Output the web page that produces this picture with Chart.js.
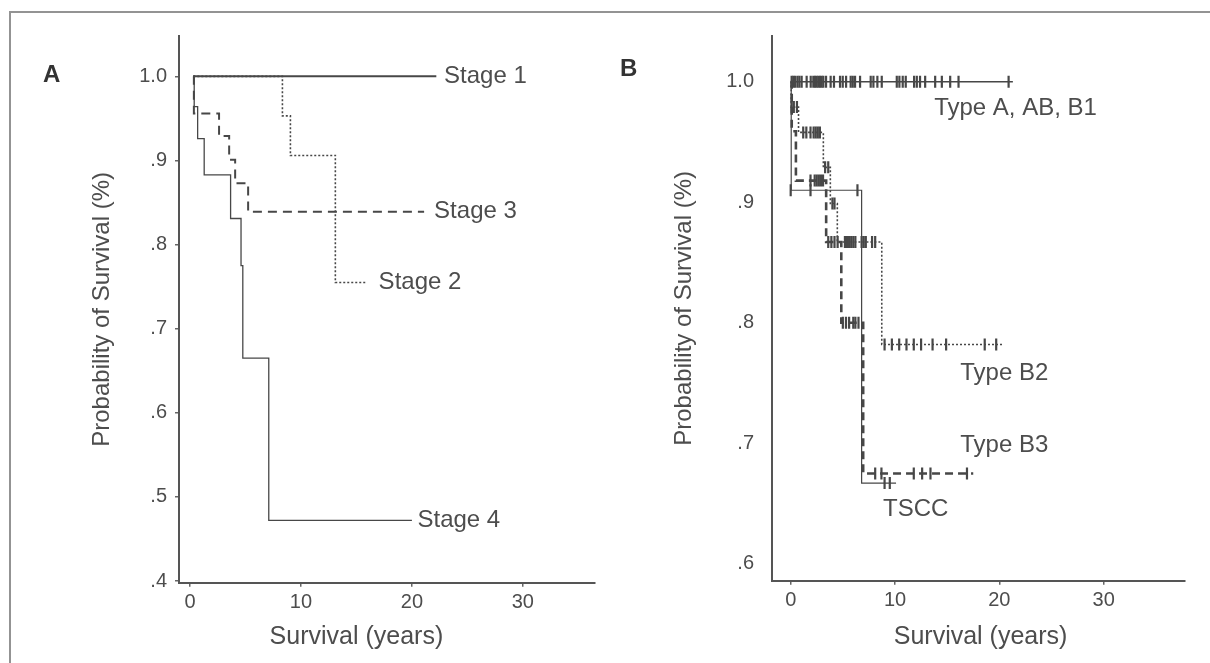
<!DOCTYPE html>
<html>
<head>
<meta charset="utf-8">
<script src="https://cdn.jsdelivr.net/npm/chart.js@4.4.1/dist/chart.umd.min.js"></script>
<style>
  body { margin: 0; background: #fff; width: 1210px; height: 663px; overflow: hidden; position: relative; font-family: "Liberation Sans", Arial, sans-serif; }
  .frame { position: absolute; left: 9px; top: 11px; width: 1220px; height: 700px; border-top: 2px solid #939393; border-left: 2px solid #939393; }
  .panel { position: absolute; top: 0; }
  .tag { position: absolute; font-weight: bold; font-size: 24px; color: #333; line-height: 24px; }
</style>
</head>
<body>
<div class="frame"></div>
<canvas id="chartA" class="panel" width="605" height="663" style="left:0"></canvas>
<canvas id="chartB" class="panel" width="605" height="663" style="left:605px"></canvas>
<div class="tag" style="left:43px;top:62px">A</div>
<div class="tag" style="left:620px;top:56px">B</div>
<script>
// x axis ticks shared by both panels
const xTickValues = [0, 10, 20, 30];

// panel A, survival by stage (years when each step starts, survival after it)
const stage1Years = [0.3, 22.2];
const stage1Surv = [1.0, 1.0];
const stage2Years = [0.3, 8.33, 9.05, 13.1, 15.9];
const stage2Surv = [1.0, 0.953, 0.906, 0.755, 0.755];
const stage3Years = [0.3, 0.35, 2.62, 3.53, 4.07, 5.24, 21.1];
const stage3Surv = [1.0, 0.956, 0.929, 0.901, 0.873, 0.839, 0.839];
const stage4Years = [0.3, 0.38, 0.69, 1.28, 3.66, 4.6, 4.76, 7.1, 20.0];
const stage4Surv = [1.0, 0.964, 0.926, 0.883, 0.831, 0.775, 0.665, 0.472, 0.472];
const yTicksA = [1.0, 0.9, 0.8, 0.7, 0.6, 0.5, 0.4];
const yLabelsA = ["1.0", ".9", ".8", ".7", ".6", ".5", ".4"];

// panel B, survival by histologic type
const typeAYears = [0, 21.3];
const typeASurv = [1.0, 1.0];
const typeB2Years = [0, 0.05, 0.75, 3.13, 3.8, 4.47, 8.73, 20.3];
const typeB2Surv = [1.0, 0.979, 0.958, 0.929, 0.899, 0.867, 0.782, 0.782];
const typeB3Years = [0, 0.1, 0.5, 3.4, 4.85, 6.95, 17.5];
const typeB3Surv = [1.0, 0.959, 0.918, 0.867, 0.8, 0.675, 0.675];
const tsccYears = [0, 0.05, 6.8, 10.1];
const tsccSurv = [1.0, 0.91, 0.667, 0.667];

// censored cases (+ marks), grouped by the level they sit on
const typeACensorLevels = [1.0];
const typeACensorYears = [[0.09, 0.25, 0.41, 0.64, 0.83, 1.05, 1.53, 1.92, 2.17, 2.33, 2.49, 2.65, 2.81, 2.97, 3.13, 3.39, 3.83, 4.15, 4.73, 4.99, 5.31, 5.75, 5.95, 6.17, 6.65, 7.67, 7.93, 8.31, 8.73, 10.17, 10.42, 10.74, 11.03, 11.83, 12.09, 12.4, 12.89, 13.85, 14.49, 15.29, 16.09, 20.89]];
const typeB2CensorLevels = [0.979, 0.958, 0.929, 0.899, 0.867, 0.782];
const typeB2CensorYears = [
  [0.1, 0.3, 0.6],
  [1.2, 1.5, 1.9, 2.2, 2.4, 2.6, 2.8],
  [3.3, 3.6],
  [4.0, 4.2],
  [5.2, 5.4, 5.6, 5.8, 6.0, 6.2, 6.8, 7.0, 7.2, 7.8, 8.1],
  [9.0, 9.7, 10.4, 11.1, 11.8, 12.5, 13.6, 14.9, 18.6, 19.7],
];
const typeB3CensorLevels = [0.918, 0.867, 0.8, 0.675];
const typeB3CensorYears = [
  [1.9, 2.3, 2.5, 2.7, 2.9, 3.1],
  [3.6, 3.9, 4.2, 4.5],
  [5.0, 5.3, 5.6, 6.0, 6.2, 6.5],
  [8.1, 8.7, 11.8, 12.6, 13.4, 16.9],
];
const tsccCensorLevels = [0.91, 0.667];
const tsccCensorYears = [[0.0, 1.9, 6.4], [9.0, 9.5]];
const yTicksB = [1.0, 0.9, 0.8, 0.7, 0.6];
const yLabelsB = ["1.0", ".9", ".8", ".7", ".6"];

const ink = "#474747";
const textInk = "#4d4d4d";
const fontFamily = "'Liberation Sans', Arial, sans-serif";

function stepData(years, surv) {
  return years.map((t, i) => ({ x: t, y: surv[i] }));
}

function censorData(levels, years) {
  const out = [];
  levels.forEach((level, i) => {
    years[i].forEach((t) => out.push({ x: t, y: level }));
  });
  return out;
}

function curve(years, surv, width, dash) {
  return {
    data: stepData(years, surv),
    stepped: "before",
    borderColor: ink,
    borderWidth: width,
    borderDash: dash,
    pointRadius: 0,
    fill: false,
  };
}

function censors(levels, years) {
  return {
    data: censorData(levels, years),
    showLine: false,
    pointStyle: "line",
    rotation: 90,
    pointRadius: 6,
    pointBorderColor: ink,
    pointBorderWidth: 2.2,
  };
}

// writes the curve names and the x title in data space
const curveText = {
  id: "curveText",
  afterDatasetsDraw(chart, args, opts) {
    const { ctx } = chart;
    const x = chart.scales.x;
    const y = chart.scales.y;
    ctx.save();
    ctx.fillStyle = textInk;
    ctx.font = "24px " + fontFamily;
    ctx.textBaseline = "middle";
    ctx.textAlign = "left";
    opts.items.forEach((item) => {
      ctx.fillText(item.text, x.getPixelForValue(item.x), y.getPixelForValue(item.y));
    });
    ctx.font = "25px " + fontFamily;
    ctx.textAlign = "center";
    ctx.fillText(opts.xTitle, x.getPixelForValue(opts.xTitleAt), chart.height - 25.5);
    ctx.restore();
  },
};

function makeChart(id, datasets, setup) {
  const tickFont = { family: fontFamily, size: 20 };
  return new Chart(document.getElementById(id), {
    type: "line",
    data: { datasets },
    plugins: [curveText],
    options: {
      responsive: false,
      animation: false,
      devicePixelRatio: 1,
      layout: { autoPadding: false, padding: { left: 0, top: 36, right: setup.padRight, bottom: 0 } },
      plugins: {
        legend: { display: false },
        tooltip: { enabled: false },
        curveText: { items: setup.labels, xTitle: "Survival (years)", xTitleAt: setup.xTitleAt },
      },
      scales: {
        x: {
          type: "linear",
          min: setup.xMin,
          max: setup.xMax,
          afterFit: (s) => { s.height = setup.xAxisHeight; },
          afterBuildTicks: (s) => { s.ticks = xTickValues.map((v) => ({ value: v })); },
          ticks: { color: textInk, font: tickFont, padding: 4, callback: (v) => String(v) },
          grid: { display: true, drawOnChartArea: false, drawTicks: true, tickLength: 4, color: "#666", lineWidth: 1.5 },
          border: { display: true, color: "#555", width: 2 },
        },
        y: {
          type: "linear",
          min: setup.yMin,
          max: setup.yMax,
          afterFit: (s) => { s.width = setup.yAxisWidth; },
          afterBuildTicks: (s) => {
            s.ticks = setup.yTicks.slice().sort((a, b) => a - b).map((v) => ({ value: v }));
          },
          ticks: {
            color: textInk,
            font: tickFont,
            padding: setup.yPad,
            callback: (v) => setup.yLabels[setup.yTicks.indexOf(v)],
          },
          grid: setup.yGrid,
          border: { display: true, color: "#555", width: 2 },
          title: {
            display: true,
            text: "Probability of Survival (%)",
            color: textInk,
            font: { family: fontFamily, size: 24 },
            padding: { top: setup.yTitlePad, bottom: 0 },
          },
        },
      },
    },
  });
}

function setupPanelA() {
  const datasets = [
    curve(stage1Years, stage1Surv, 2, []),
    curve(stage2Years, stage2Surv, 1.6, [2, 2]),
    curve(stage3Years, stage3Surv, 2, [9, 6]),
    curve(stage4Years, stage4Surv, 1.3, []),
  ];
  makeChart("chartA", datasets, {
    padRight: 10,
    xMin: -0.99, xMax: 36.5, yMin: 0.398, yMax: 1.048,
    xAxisHeight: 80.3, yAxisWidth: 179,
    yTicks: yTicksA, yLabels: yLabelsA, yPad: 8, yTitlePad: 87.6,
    yGrid: { display: true, drawOnChartArea: false, drawTicks: true, tickLength: 4, color: "#666", lineWidth: 1.5 },
    xTitleAt: 15,
    labels: [
      { text: "Stage 1", x: 22.9, y: 1.0 },
      { text: "Stage 3", x: 22.0, y: 0.839 },
      { text: "Stage 2", x: 17.0, y: 0.755 },
      { text: "Stage 4", x: 20.5, y: 0.472 },
    ],
  });
}

function setupPanelB() {
  const datasets = [
    curve(typeAYears, typeASurv, 1.6, []),
    censors(typeACensorLevels, typeACensorYears),
    curve(typeB2Years, typeB2Surv, 1.6, [2, 2]),
    censors(typeB2CensorLevels, typeB2CensorYears),
    curve(typeB3Years, typeB3Surv, 2.6, [8, 5]),
    censors(typeB3CensorLevels, typeB3CensorYears),
    curve(tsccYears, tsccSurv, 1.2, []),
    censors(tsccCensorLevels, tsccCensorYears),
  ];
  makeChart("chartB", datasets, {
    padRight: 25,
    xMin: -1.84, xMax: 37.8, yMin: 0.586, yMax: 1.038,
    xAxisHeight: 82.3, yAxisWidth: 166.5,
    yTicks: yTicksB, yLabels: yLabelsB, yPad: 9.5, yTitlePad: 64.6,
    yGrid: { display: false },
    xTitleAt: 18.2,
    labels: [
      { text: "Type A, AB, B1", x: 13.75, y: 0.978 },
      { text: "Type B2", x: 16.25, y: 0.758 },
      { text: "Type B3", x: 16.25, y: 0.698 },
      { text: "TSCC", x: 8.85, y: 0.645 },
    ],
  });
}

document.addEventListener("DOMContentLoaded", () => {
  setupPanelA();
  setupPanelB();
});
</script>
</body>
</html>
